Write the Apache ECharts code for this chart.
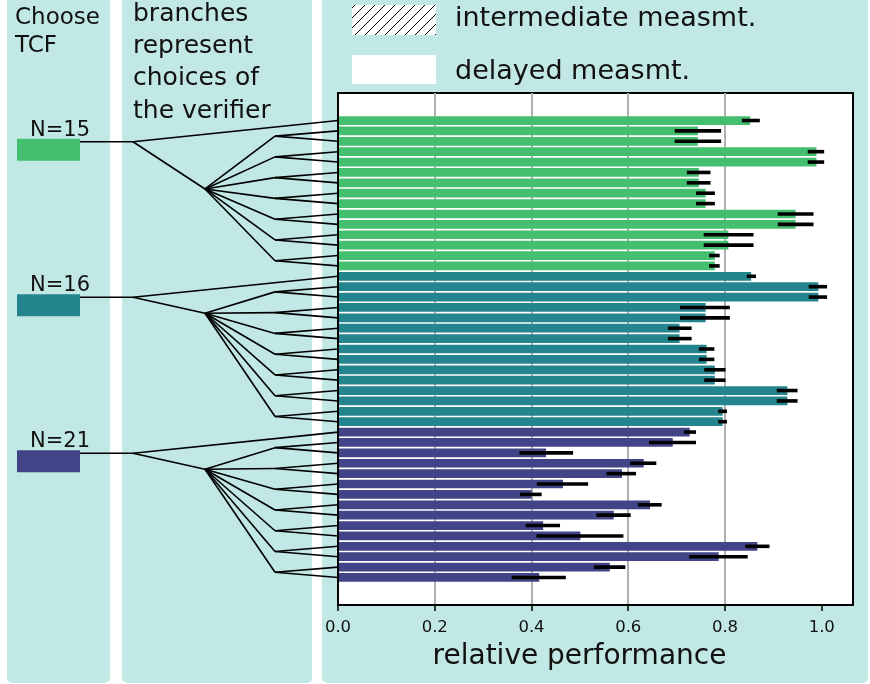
<!DOCTYPE html>
<html><head><meta charset="utf-8">
<script src="https://cdn.jsdelivr.net/npm/echarts@6/dist/echarts.min.js"></script>
<style>html,body{margin:0;padding:0;background:#fff}#c{width:870px;height:684px}</style>
</head><body><div id="c"></div>
<script>
// ---------------- data ----------------
const groupNames = ['N=15', 'N=16', 'N=21'];
const groupColors = ['#44bf70', '#25858e', '#414487'];

const greenMean = [0.852, 0.744, 0.744, 0.989, 0.989, 0.746, 0.746, 0.760, 0.760, 0.946, 0.946, 0.807, 0.807, 0.779, 0.779];
const greenLow  = [0.835, 0.696, 0.696, 0.971, 0.971, 0.721, 0.721, 0.740, 0.740, 0.909, 0.909, 0.756, 0.756, 0.767, 0.767];
const greenHigh = [0.872, 0.792, 0.792, 1.005, 1.005, 0.770, 0.770, 0.779, 0.779, 0.983, 0.983, 0.859, 0.859, 0.789, 0.789];

const tealMean = [0.854, 0.993, 0.993, 0.760, 0.760, 0.706, 0.706, 0.762, 0.762, 0.779, 0.779, 0.929, 0.929, 0.795, 0.795];
const tealLow  = [0.845, 0.973, 0.973, 0.707, 0.707, 0.682, 0.682, 0.746, 0.746, 0.757, 0.757, 0.907, 0.907, 0.786, 0.786];
const tealHigh = [0.864, 1.011, 1.011, 0.810, 0.810, 0.731, 0.731, 0.778, 0.778, 0.801, 0.801, 0.950, 0.950, 0.804, 0.804];

const purpleMean = [0.727, 0.692, 0.430, 0.632, 0.587, 0.465, 0.400, 0.645, 0.570, 0.424, 0.501, 0.867, 0.787, 0.562, 0.416];
const purpleLow  = [0.715, 0.643, 0.375, 0.604, 0.555, 0.411, 0.376, 0.620, 0.534, 0.388, 0.410, 0.842, 0.726, 0.529, 0.359];
const purpleHigh = [0.740, 0.740, 0.486, 0.658, 0.616, 0.517, 0.421, 0.669, 0.605, 0.459, 0.590, 0.892, 0.847, 0.594, 0.471];

// tree: y (in bar-index units, relative to group's first bar) of root and inner node
const treeRootOffset = [2.04, 2.02, 2.04];
const treeNodeOffset = [6.59, 3.56, 3.58];

const xTickValues = [0, 0.2, 0.4, 0.6, 0.8, 1.0];
const xAxisTitle = 'relative performance';
const legendLabels = ['intermediate measmt.', 'delayed measmt.'];
const panelTitle1 = ['Choose', 'TCF'];
const panelTitle2 = ['branches', 'represent', 'choices of', 'the verifier'];

// ---------------- layout ----------------
const FONT = '"DejaVu Sans", Verdana, sans-serif';
const PANEL = '#c1e8e5';
const PLOT = {left: 338, top: 93, width: 515, height: 512};
const Y_MIN = -2.65, Y_MAX = 46.65, X_MAX = 1.0646;
const TX = {swL: 17, swR: 80, root: 133, node: 205, sub: 275, leaf: 338};

const groups = [
  {mean: greenMean, low: greenLow, high: greenHigh},
  {mean: tealMean, low: tealLow, high: tealHigh},
  {mean: purpleMean, low: purpleLow, high: purpleHigh}
];
const perGroup = 15;

// bar series
const barSeries = groups.map((g, gi) => ({
  type: 'custom', xAxisIndex: 0, yAxisIndex: 0, z: 3,
  data: g.mean.map((v, i) => [v, gi * perGroup + i]),
  encode: {x: 0, y: 1},
  renderItem: function (params, api) {
    const v = api.value(0), idx = api.value(1);
    const p0 = api.coord([0, idx]), p1 = api.coord([v, idx]);
    const h = api.size([0, 1])[1] * 0.84;
    return {type: 'rect', shape: {x: p0[0], y: p0[1] - h / 2, width: p1[0] - p0[0], height: h},
      style: {fill: groupColors[gi]}};
  }
}));

// error bars
const errData = [];
groups.forEach((g, gi) => g.low.forEach((lo, i) => errData.push([lo, g.high[i], gi * perGroup + i])));
const errSeries = {
  type: 'custom', xAxisIndex: 0, yAxisIndex: 0, z: 4,
  data: errData, encode: {x: [0, 1], y: 2},
  renderItem: function (params, api) {
    const a = api.coord([api.value(0), api.value(2)]);
    const b = api.coord([api.value(1), api.value(2)]);
    return {type: 'line', shape: {x1: a[0], y1: a[1], x2: b[0], y2: b[1]},
      style: {stroke: '#000', lineWidth: 3.6}};
  }
};

// tree segments
const segs = [];
groups.forEach((g, gi) => {
  const base = gi * perGroup;
  const r = base + treeRootOffset[gi], n = base + treeNodeOffset[gi];
  segs.push([TX.swR, r, TX.root, r]);
  segs.push([TX.root, r, TX.leaf, base]);
  segs.push([TX.root, r, TX.node, n]);
  for (let k = 0; k < 7; k++) {
    const a = base + 1 + 2 * k, b = a + 1, s = (a + b) / 2;
    segs.push([TX.node, n, TX.sub, s]);
    segs.push([TX.sub, s, TX.leaf, a]);
    segs.push([TX.sub, s, TX.leaf, b]);
  }
});
const treeSeries = {
  type: 'custom', xAxisIndex: 1, yAxisIndex: 1, z: 2, clip: false,
  data: segs, encode: {x: [0, 2], y: [1, 3]},
  renderItem: function (params, api) {
    const a = api.coord([api.value(0), api.value(1)]);
    const b = api.coord([api.value(2), api.value(3)]);
    return {type: 'line', shape: {x1: a[0], y1: a[1], x2: b[0], y2: b[1]},
      style: {stroke: '#000', lineWidth: 1.6}};
  }
};

// swatches + N labels
const swatchSeries = {
  type: 'custom', xAxisIndex: 1, yAxisIndex: 1, z: 2, clip: false,
  data: groups.map((g, gi) => [gi * perGroup + treeRootOffset[gi], gi]),
  encode: {y: 0},
  renderItem: function (params, api) {
    const gi = api.value(1);
    const p = api.coord([TX.swL, api.value(0)]);
    const q = api.coord([TX.swR, api.value(0)]);
    return {type: 'group', children: [
      {type: 'rect', shape: {x: p[0], y: p[1] - 3, width: q[0] - p[0], height: 22}, style: {fill: groupColors[gi]}},
      {type: 'text', style: {text: groupNames[gi], x: 30, y: p[1] - 11.5, font: '21px ' + FONT,
        fill: '#111', verticalAlign: 'middle', align: 'left'}}
    ]};
  }
};

// hatch pattern
const hc = document.createElement('canvas');
hc.width = 10; hc.height = 10;
const hctx = hc.getContext('2d');
hctx.fillStyle = '#fff'; hctx.fillRect(0, 0, 10, 10);
hctx.strokeStyle = '#000'; hctx.lineWidth = 1;
hctx.beginPath();
hctx.moveTo(0, 10); hctx.lineTo(10, 0);
hctx.moveTo(-5, 5); hctx.lineTo(5, -5);
hctx.moveTo(5, 15); hctx.lineTo(15, 5);
hctx.stroke();

const graphics = [
  {type: 'rect', z: -100, shape: {x: 7, y: -6, width: 103, height: 689, r: 5}, style: {fill: PANEL}},
  {type: 'rect', z: -100, shape: {x: 122, y: -6, width: 190, height: 689, r: 5}, style: {fill: PANEL}},
  {type: 'rect', z: -100, shape: {x: 322, y: -6, width: 546, height: 689, r: 5}, style: {fill: PANEL}},
  {type: 'rect', z: 5, shape: {x: 352, y: 5, width: 84, height: 30}, style: {fill: {image: hc, repeat: 'repeat'}}},
  {type: 'rect', z: 5, shape: {x: 352, y: 55, width: 84, height: 29}, style: {fill: '#fff'}},
  {type: 'text', z: 5, style: {text: legendLabels[0], x: 455, y: 19, font: '27px ' + FONT, fill: '#111', verticalAlign: 'middle'}},
  {type: 'text', z: 5, style: {text: legendLabels[1], x: 455, y: 72, font: '27px ' + FONT, fill: '#111', verticalAlign: 'middle'}},
  {type: 'text', z: 5, style: {text: xAxisTitle, x: 579.5, y: 657, font: '28px ' + FONT, fill: '#111', verticalAlign: 'middle', align: 'center'}}
];
const p1Mid = [18, 46.4];
panelTitle1.forEach((t, i) => graphics.push({type: 'text', z: 5, style: {text: t, x: 15, y: p1Mid[i], font: '23px ' + FONT, fill: '#111', verticalAlign: 'middle'}}));
const p2Mid = [14.5, 46.8, 78.8, 111.1];
panelTitle2.forEach((t, i) => graphics.push({type: 'text', z: 5, style: {text: t, x: 133, y: p2Mid[i], font: '25px ' + FONT, fill: '#111', verticalAlign: 'middle'}}));

const option = {
  animation: false,
  backgroundColor: '#fff',
  grid: [
    {left: PLOT.left, top: PLOT.top, width: PLOT.width, height: PLOT.height, show: true,
      backgroundColor: '#fff', borderColor: '#000', borderWidth: 2},
    {left: 0, top: PLOT.top, width: PLOT.left, height: PLOT.height, show: false}
  ],
  xAxis: [
    {type: 'value', gridIndex: 0, min: 0, max: X_MAX, interval: 0.2,
      axisLine: {show: true, onZero: false, lineStyle: {color: '#000', width: 2}},
      axisTick: {show: true, length: 6, lineStyle: {color: '#000', width: 1.5}, customValues: xTickValues},
      axisLabel: {show: true, customValues: xTickValues, margin: 14, fontSize: 16.5, fontFamily: FONT, color: '#111',
        formatter: v => v.toFixed(1)},
      splitLine: {show: true, showMinLine: false, showMaxLine: false, lineStyle: {color: '#b0b0b0', width: 2}}
    },
    {type: 'value', gridIndex: 1, min: 0, max: PLOT.left, show: false}
  ],
  yAxis: [
    {type: 'value', gridIndex: 0, min: Y_MIN, max: Y_MAX, inverse: true, z: 10,
      axisLine: {show: true, onZero: false, lineStyle: {color: '#000', width: 2}},
      axisTick: {show: false}, axisLabel: {show: false}, splitLine: {show: false}},
    {type: 'value', gridIndex: 1, min: Y_MIN, max: Y_MAX, inverse: true, show: false}
  ],
  graphic: {elements: graphics},
  series: [...barSeries, errSeries, treeSeries, swatchSeries]
};
const chart = echarts.init(document.getElementById('c'));
chart.setOption(option);
</script></body></html>
